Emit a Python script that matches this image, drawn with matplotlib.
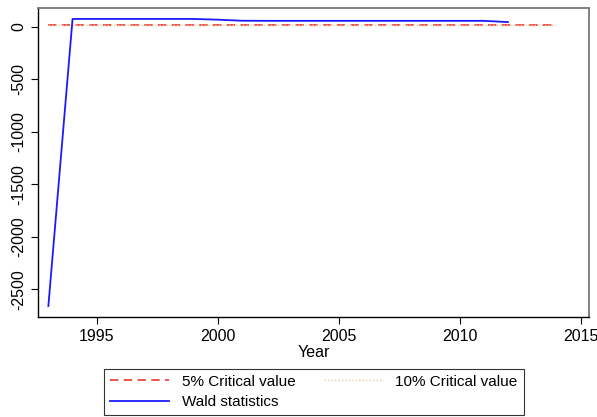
import matplotlib.pyplot as plt

plt.rcParams['font.family'] = ['Liberation Sans', 'DejaVu Sans']
plt.rcParams['axes.unicode_minus'] = False

# Wald statistics by year
years = [1993, 1994, 1995, 1996, 1997, 1998, 1999, 2000, 2001, 2002, 2003,
         2004, 2005, 2006, 2007, 2008, 2009, 2010, 2011, 2012]
wald = [-2660, 75, 75, 75, 75, 75, 75, 68, 58, 57, 57,
        57, 57, 57, 57, 57, 57, 57, 57, 45]

# critical values, constant over the sample
crit_years = [1993, 2014]
crit_5 = [20, 20]
crit_10 = [17, 17]

fig = plt.figure(figsize=(5.97, 4.17), dpi=100)
ax = fig.add_axes([0.064, 0.24, 0.923, 0.741])

l5, = ax.plot(crit_years, crit_5, color='#e8251f', lw=1.1, dashes=(5.5, 3.5),
              label='5% Critical value')
l10, = ax.plot(crit_years, crit_10, color='#f5c89a', lw=1.0, ls=(0, (1, 1.5)),
               label='10% Critical value')
lw, = ax.plot(years, wald, color='#1a1aff', lw=1.3, label='Wald statistics')

ax.set_xlim(1992.58, 2015.36)
ax.set_ylim(-2764, 180)
ax.set_xticks([1995, 2000, 2005, 2010, 2015])
ax.set_yticks([0, -500, -1000, -1500, -2000, -2500])
ax.tick_params(axis='both', labelsize=11.5, length=5, width=0.8, colors='black')
for lab in ax.get_yticklabels():
    lab.set_rotation(90)
    lab.set_va('center')
ax.set_xlabel('Year', fontsize=11.5, labelpad=1)

for side in ('top', 'right'):
    ax.spines[side].set_color('#777777')
    ax.spines[side].set_linewidth(1.3)
for side in ('left', 'bottom'):
    ax.spines[side].set_color('black')
    ax.spines[side].set_linewidth(1.0)

leg = fig.legend(handles=[l5, lw, l10], ncol=2, loc='lower center',
                 bbox_to_anchor=(314 / 597, 2 / 417), fontsize=11, frameon=True,
                 fancybox=False, edgecolor='black', handlelength=3.8,
                 columnspacing=1.8, borderpad=0.4, labelspacing=0.4,
                 handletextpad=0.9, borderaxespad=0)
leg.get_frame().set_linewidth(0.8)

fig.savefig('out.png', dpi=100)
